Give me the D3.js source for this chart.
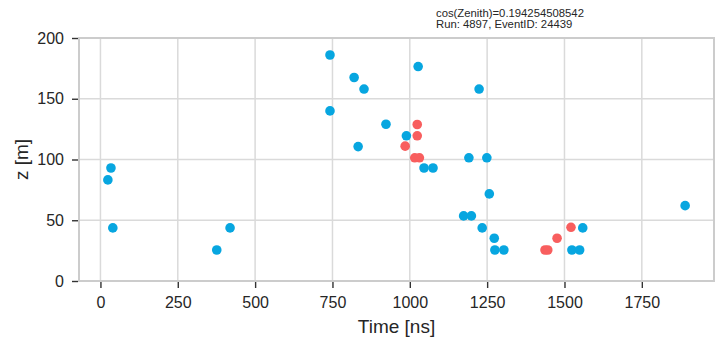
<!DOCTYPE html>
<html>
<head>
<meta charset="utf-8">
<script src="https://cdn.jsdelivr.net/npm/d3@7"></script>
<style>
  html, body { margin: 0; padding: 0; background: #fff; }
  svg { display: block; font-family: "Liberation Sans", Arial, sans-serif; }
</style>
</head>
<body>
<div id="chart"></div>
<script>
// Data (time in ns, z in m)
const blueTime = [24, 34, 40, 376, 419, 742, 742, 820, 833, 852, 923, 989, 1027, 1224, 1046, 1075, 1191, 1249, 1257, 1174, 1199, 1234, 1273, 1275, 1304, 1524, 1549, 1559, 1890];
const blueZ    = [83.2, 93, 43.7, 25.5, 43.7, 186, 140, 167.5, 110.6, 158, 129, 119.5, 176.5, 158, 93, 93, 101.4, 101.4, 71.7, 53.6, 53.6, 43.7, 35.2, 25.5, 25.5, 25.5, 25.5, 43.7, 62];
const redTime  = [1024, 1024, 985, 1016, 1031, 1437, 1446, 1476, 1521];
const redZ     = [128.8, 119.5, 111, 101.4, 101.4, 25.5, 25.5, 35.2, 44.2];
const xTicks = [0, 250, 500, 750, 1000, 1250, 1500, 1750];
const yTicks = [0, 50, 100, 150, 200];
const titleLines = ["cos(Zenith)=0.194254508542", "Run: 4897, EventID: 24439"];
const xLabel = "Time [ns]";
const yLabel = "z [m]";

const W = 715, H = 338;
const m = {left: 79, right: 1, top: 38, bottom: 57};
const iw = W - m.left - m.right, ih = H - m.top - m.bottom;

const svg = d3.select("#chart").append("svg").attr("width", W).attr("height", H);

const x = d3.scaleLinear().domain([-69.3, 1983.3]).range([m.left, m.left + iw]);
const y = d3.scaleLinear().domain([0, 200]).range([m.top + ih, m.top]);

const textColor = "#262626";

// grid
const g = svg.append("g");
g.selectAll(".vg").data(xTicks).enter().append("line")
  .attr("x1", d => x(d)).attr("x2", d => x(d))
  .attr("y1", m.top).attr("y2", m.top + ih)
  .attr("stroke", "#dadada").attr("stroke-width", 1.5);
g.selectAll(".hg").data(yTicks).enter().append("line")
  .attr("y1", d => y(d)).attr("y2", d => y(d))
  .attr("x1", m.left).attr("x2", m.left + iw)
  .attr("stroke", "#dadada").attr("stroke-width", 1.5);

// axes
const xAxis = d3.axisBottom(x).tickValues(xTicks).tickSize(6).tickPadding(9).tickFormat(d3.format("d"));
const yAxis = d3.axisLeft(y).tickValues(yTicks).tickSize(6).tickPadding(8).tickFormat(d3.format("d"));

const gx = svg.append("g").attr("transform", `translate(0,${m.top + ih + 1})`).call(xAxis);
const gy = svg.append("g").attr("transform", `translate(${m.left - 1},0)`).call(yAxis);
[gx, gy].forEach(a => {
  a.select(".domain").remove();
  a.selectAll(".tick line").attr("stroke", "#333").attr("stroke-width", 1.4);
  a.selectAll(".tick text").attr("fill", textColor).style("font-size", "16px");
});

// spines
svg.append("rect")
  .attr("x", m.left).attr("y", m.top).attr("width", iw).attr("height", ih)
  .attr("fill", "none").attr("stroke", "#cccccc").attr("stroke-width", 2);

// points
const pts = svg.append("g");
pts.selectAll(".b").data(d3.range(blueTime.length)).enter().append("circle")
  .attr("cx", i => x(blueTime[i])).attr("cy", i => y(blueZ[i])).attr("r", 4.8)
  .attr("fill", "#07a6e0");
pts.selectAll(".r").data(d3.range(redTime.length)).enter().append("circle")
  .attr("cx", i => x(redTime[i])).attr("cy", i => y(redZ[i])).attr("r", 4.8)
  .attr("fill", "#f85e5e");

// labels
svg.append("text").attr("x", m.left + iw / 2).attr("y", 333)
  .attr("text-anchor", "middle").attr("fill", textColor).style("font-size", "19px").text(xLabel);
svg.append("text").attr("transform", `translate(28,${m.top + ih / 2}) rotate(-90)`)
  .attr("text-anchor", "middle").attr("fill", textColor).style("font-size", "19px").text(yLabel);

// title
titleLines.forEach((t, i) => {
  svg.append("text").attr("x", 436).attr("y", 17 + i * 11.4)
    .attr("fill", textColor).style("font-size", "11.3px").text(t);
});
</script>
</body>
</html>
